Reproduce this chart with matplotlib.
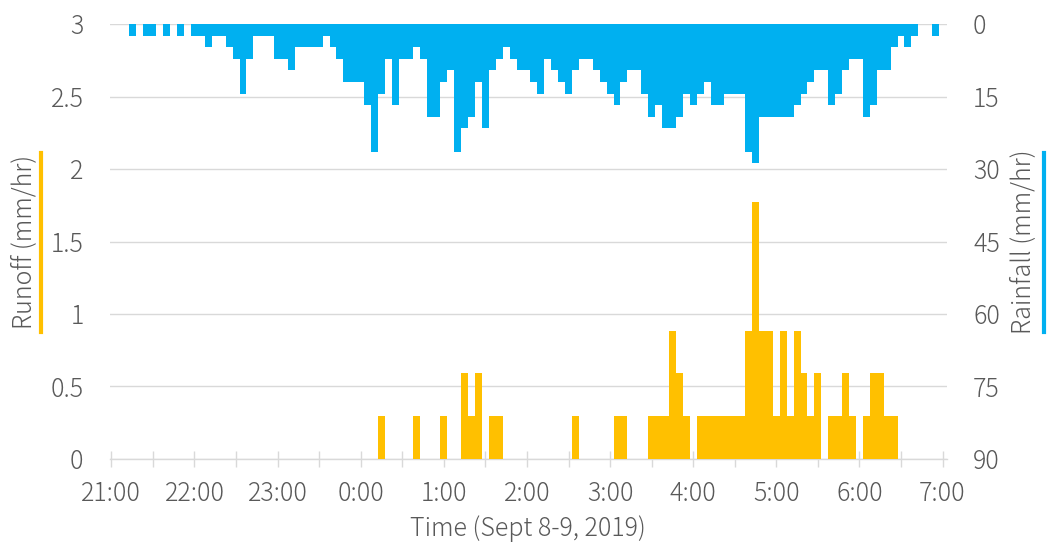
import numpy as np
import matplotlib.pyplot as plt
from matplotlib.lines import Line2D

plt.rcParams['font.family'] = ['Noto Sans CJK JP', 'DejaVu Sans']
plt.rcParams['font.weight'] = 'light'
plt.rcParams['axes.labelweight'] = 'light'

# 5-minute intervals from 21:00 (Sept 8) to 7:00 (Sept 9), minutes after 21:00
minutes = np.arange(0, 605, 5)

# rainfall intensity, mm/hr
rainfall = [0, 0, 0, 2.4, 0, 2.4, 2.4, 0, 2.4, 0,
            2.4, 0, 2.4, 2.4, 4.8, 2.4, 2.4, 4.8, 7.2, 14.4,
            7.2, 2.4, 2.4, 2.4, 7.2, 7.2, 9.6, 4.8, 4.8, 4.8,
            4.8, 2.4, 4.8, 7.2, 12, 12, 12, 16.8, 26.4, 14.4,
            7.2, 16.8, 7.2, 7.2, 4.8, 7.2, 19.2, 19.2, 12, 9.6,
            26.4, 21.6, 19.2, 12, 21.6, 9.6, 7.2, 4.8, 7.2, 9.6,
            9.6, 12, 14.4, 7.2, 9.6, 12, 14.4, 9.6, 7.2, 7.2,
            9.6, 12, 14.4, 16.8, 12, 9.6, 9.6, 14.4, 19.2, 16.8,
            21.6, 21.6, 19.2, 14.4, 16.8, 14.4, 12, 16.8, 16.8, 14.4,
            14.4, 14.4, 26.4, 28.8, 19.2, 19.2, 19.2, 19.2, 19.2, 16.8,
            14.4, 12, 9.6, 9.6, 16.8, 14.4, 9.6, 7.2, 7.2, 19.2,
            16.8, 9.6, 9.6, 4.8, 2.4, 4.8, 2.4, 0, 0, 2.4,
            0]

# runoff, mm/hr
runoff = [0, 0, 0, 0, 0, 0, 0, 0, 0, 0,
          0, 0, 0, 0, 0, 0, 0, 0, 0, 0,
          0, 0, 0, 0, 0, 0, 0, 0, 0, 0,
          0, 0, 0, 0, 0, 0, 0, 0, 0, 0.295,
          0, 0, 0, 0, 0.295, 0, 0, 0, 0.295, 0,
          0, 0.59, 0.295, 0.59, 0, 0.295, 0.295, 0, 0, 0,
          0, 0, 0, 0, 0, 0, 0, 0.295, 0, 0,
          0, 0, 0, 0.295, 0.295, 0, 0, 0, 0.295, 0.295,
          0.295, 0.885, 0.59, 0.295, 0, 0.295, 0.295, 0.295, 0.295, 0.295,
          0.295, 0.295, 0.885, 1.77, 0.885, 0.885, 0.295, 0.885, 0.295, 0.885,
          0.59, 0.295, 0.59, 0, 0.295, 0.295, 0.59, 0.295, 0, 0.295,
          0.59, 0.59, 0.295, 0.295, 0, 0, 0, 0, 0, 0,
          0]

hour_labels = ['21:00', '22:00', '23:00', '0:00', '1:00', '2:00',
               '3:00', '4:00', '5:00', '6:00', '7:00']

blue = '#00B0F0'
gold = '#FFC000'
txt = '#595959'
grid = '#D9D9D9'

fig = plt.figure(figsize=(10.47, 5.45), dpi=100)
ax = fig.add_axes([0.10506, 0.15780, 0.79914, 0.79816])
ax2 = ax.twinx()

ax.bar(minutes, runoff, width=5, color=gold, linewidth=0, zorder=3)
ax2.bar(minutes, rainfall, width=5, color=blue, linewidth=0)

ax.set_xlim(-1, 603)
ax.set_ylim(0, 3)
ax2.set_ylim(90, 0)

ax.set_yticks(np.arange(0, 3.01, 0.5))
ax.set_yticklabels(['0', '0.5', '1', '1.5', '2', '2.5', '3'])
ax2.set_yticks(np.arange(0, 91, 15))

ax.set_xticks(np.arange(0, 601, 60))
ax.set_xticklabels(hour_labels)
ax.set_xticks(np.arange(30, 600, 60), minor=True)

ax.set_axisbelow(True)
ax.grid(True, axis='y', color=grid, linewidth=1)

for a in (ax, ax2):
    for s in ('top', 'left', 'right', 'bottom'):
        a.spines[s].set_visible(False)
ax.spines['bottom'].set_visible(True)
ax.spines['bottom'].set_color(grid)
ax.spines['bottom'].set_linewidth(1)

ax.tick_params(axis='x', which='both', direction='inout', length=11, width=1,
               color=grid, labelcolor=txt, labelsize=18, pad=10)
ax.tick_params(axis='y', length=0, pad=19, labelcolor=txt, labelsize=18)
ax2.tick_params(axis='y', length=0, pad=19, labelcolor=txt, labelsize=18)

ax.set_xlabel('Time (Sept 8-9, 2019)', fontsize=18, color=txt, labelpad=6)

# axis titles with coloured markers, Excel style
fig.text(25 / 1047, 1 - 242 / 545, 'Runoff (mm/hr)', rotation=90, fontsize=18,
         color=txt, ha='center', va='center')
fig.add_artist(Line2D([41 / 1047, 41 / 1047], [1 - 153 / 545, 1 - 332 / 545],
                      color=gold, linewidth=3, transform=fig.transFigure))
fig.text(1024 / 1047, 1 - 242 / 545, 'Rainfall (mm/hr)', rotation=90, fontsize=18,
         color=txt, ha='center', va='center')
fig.add_artist(Line2D([1044 / 1047, 1044 / 1047], [1 - 153 / 545, 1 - 332 / 545],
                      color=blue, linewidth=3, transform=fig.transFigure))

plt.savefig('out.png', dpi=100)
